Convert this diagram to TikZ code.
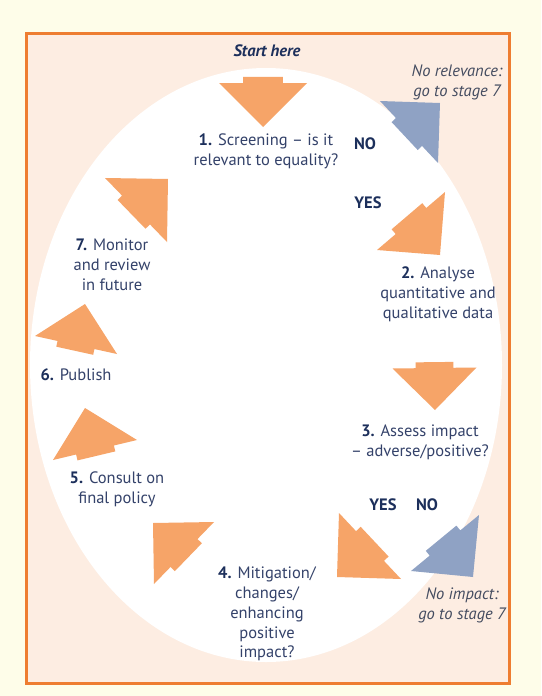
\documentclass[tikz,border=0pt]{standalone}
\usepackage{fontspec}
\setmainfont{PT Sans}
\usetikzlibrary{calc}
\definecolor{bgyellow}{HTML}{FEFDE9}
\definecolor{peach}{HTML}{FDEDE2}
\definecolor{frameorange}{HTML}{EE7D31}
\definecolor{arrorange}{HTML}{F6A468}
\definecolor{arrblue}{HTML}{8FA2C4}
\definecolor{navy}{HTML}{1C2F5B}
\definecolor{bodytext}{HTML}{34426A}
\definecolor{notetext}{HTML}{444C60}
\newcommand\blockarr[4]{%
  \coordinate (#1b) at (#2);
  \coordinate (#1t) at (#3);
  \fill[#4] ($(#1b)!1!90:(#1t)$)
    -- ($(#1b)!0.45!90:(#1t)$)
    -- ($(#1b)!0.45!90:(#1t) + 0.14*(#1b) - 0.14*(#1t)$)
    -- ($(#1b)!0.45!-90:(#1t) + 0.14*(#1b) - 0.14*(#1t)$)
    -- ($(#1b)!0.45!-90:(#1t)$)
    -- ($(#1b)!1!-90:(#1t)$)
    -- (#1t) -- cycle;}
\begin{document}
\begin{tikzpicture}[x=1pt,y=-1pt,
  txt/.style={text=bodytext,font=\fontsize{16.5}{19.8}\selectfont,align=center,inner sep=0pt},
  lbl/.style={text=navy,font=\fontsize{16.5}{19.8}\selectfont\bfseries,inner sep=0pt},
  note/.style={text=notetext,font=\fontsize{16.5}{19.8}\selectfont\itshape,align=center,inner sep=0pt}]
\useasboundingbox (0,0) rectangle (541,696);
\fill[bgyellow] (0,0) rectangle (541,696);
\fill[peach] (26,33) rectangle (509,683);
\fill[white] (266,365) ellipse [x radius=236, y radius=297];
\draw[frameorange,line width=3pt] (26,33) rectangle (509,683);
% arrows
\blockarr{a1}{263,83}{263,127}{arrorange}
\blockarr{a2}{409,132}{440,103}{arrblue}
\blockarr{a3}{411,221}{440,255}{arrorange}
\blockarr{a4}{434.5,368}{435,410}{arrorange}
\blockarr{a5}{370,546}{337,577}{arrorange}
\blockarr{a6}{445,543}{473,577}{arrblue}
\blockarr{a7}{184,553}{153,523}{arrorange}
\blockarr{a8}{95,450}{85,408}{arrorange}
\blockarr{a9}{76,345}{85,304}{arrorange}
\blockarr{a10}{136,210}{168,179}{arrorange}
% texts
\node[lbl,font=\fontsize{16.5}{19.8}\selectfont\bfseries\itshape] (start) at (267,51) {Start here};
\node[note] (norel) at (457,82) {No relevance:\\go to stage 7};
\node[txt] (s1) at (266,151) {\textbf{\color{navy}1.} Screening -- is it\\relevant to equality?};
\node[lbl] (no1) at (365,144) {NO};
\node[lbl] (yes1) at (368,203) {YES};
\node[txt] (s2) at (438,294) {\textbf{\color{navy}2.} Analyse\\quantitative and\\qualitative data};
\node[txt] (s3) at (420,442) {\textbf{\color{navy}3.} Assess impact\\-- adverse/positive?};
\node[lbl] (yes2) at (383,505) {YES};
\node[lbl] (no2) at (427,505) {NO};
\node[note] (noimp) at (462,605) {No impact:\\go to stage 7};
\node[txt] (s4) at (267,614) {\textbf{\color{navy}4.} Mitigation/\\changes/\\enhancing\\positive\\impact?};
\node[txt] (s5) at (117,489) {\textbf{\color{navy}5.} Consult on\\final policy};
\node[txt] (s6) at (76,375) {\textbf{\color{navy}6.} Publish};
\node[txt] (s7) at (112,265) {\textbf{\color{navy}7.} Monitor\\and review\\in future};
\end{tikzpicture}
\end{document}
